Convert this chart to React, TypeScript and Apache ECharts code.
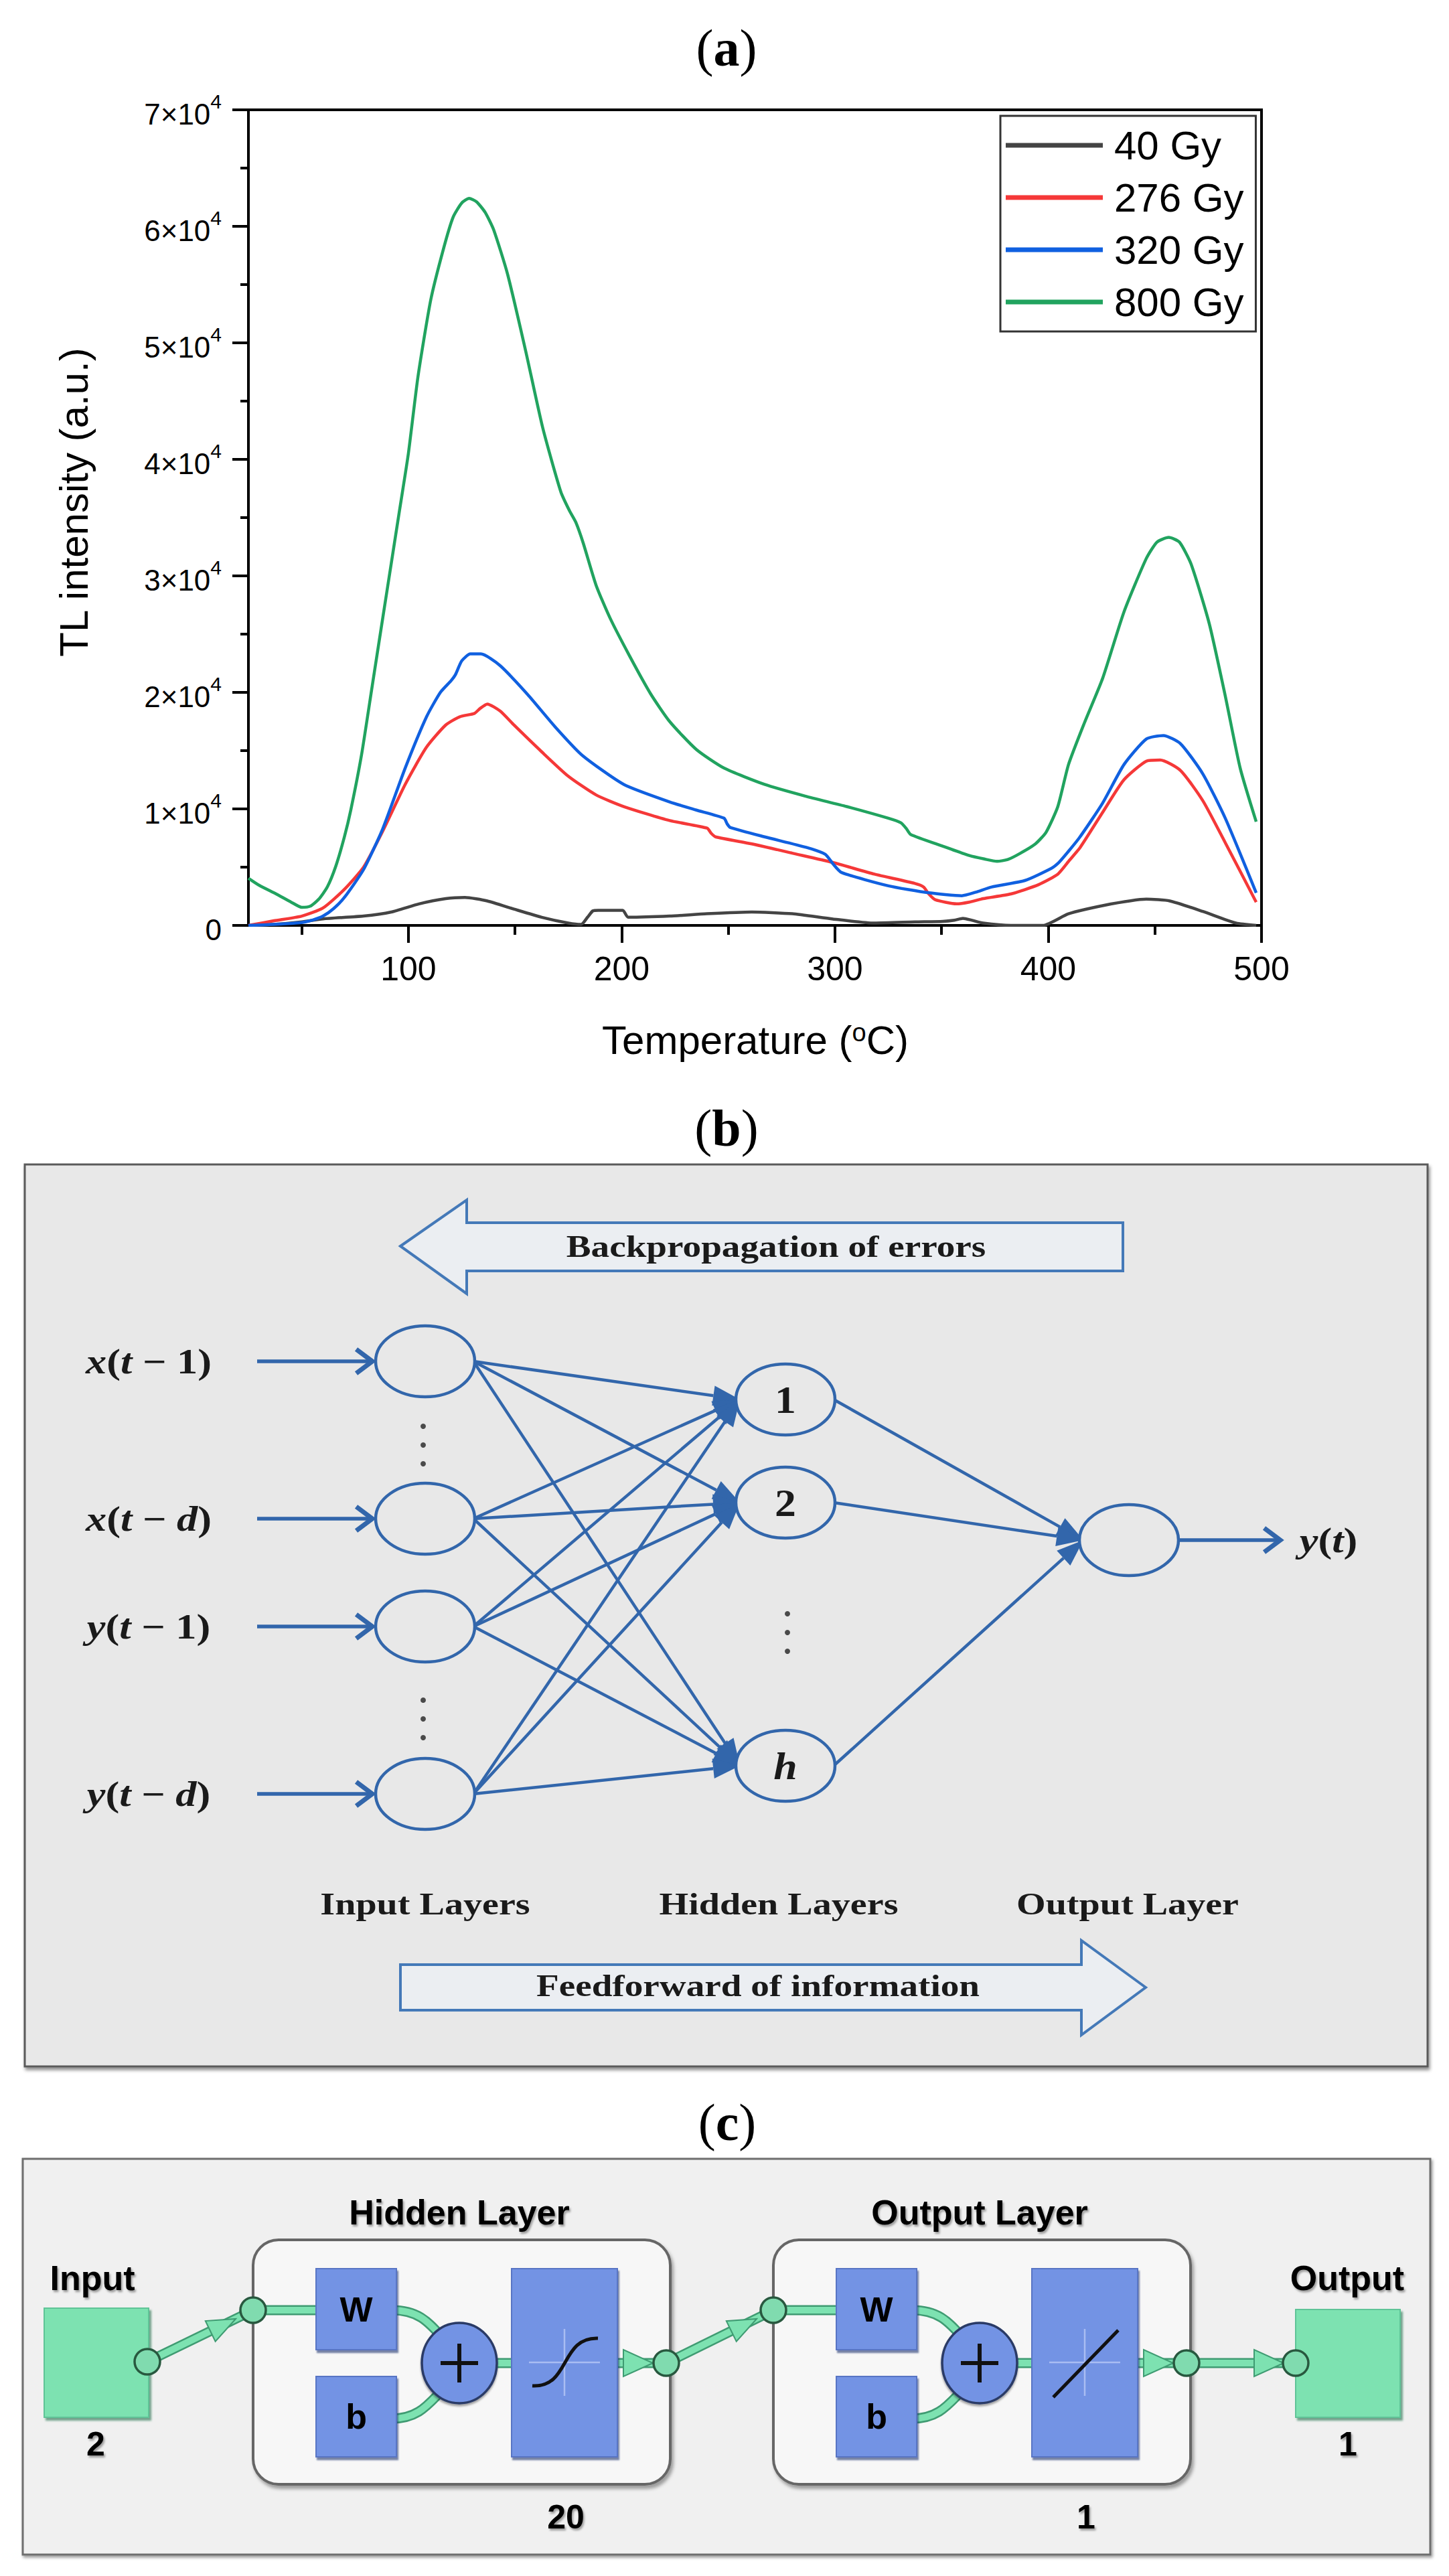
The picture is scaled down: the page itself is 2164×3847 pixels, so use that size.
import React, { useEffect, useRef } from 'react';
import * as echarts from 'echarts';

// ---------- Panel (a) data ----------
const doseLabels = ['40 Gy', '276 Gy', '320 Gy', '800 Gy'];
const doseColors = ['#444444', '#f53838', '#1060e0', '#21a35f'];

const gy40: number[][] = [
  [25, 0], [38, 100], [50, 300], [60, 560], [79, 800], [92, 1150], [105, 1850], [117.5, 2300],
  [126.5, 2400], [137, 2100], [149.5, 1400], [162.5, 700], [175, 200], [181, 80], [184, 700],
  [186.5, 1250], [189, 1300], [200.5, 1300], [203, 700], [222.5, 800], [240, 1000], [261, 1150],
  [280, 1000], [299, 550], [318.5, 200], [337.5, 300], [350.5, 350], [356, 450], [360, 600],
  [364, 450], [369.5, 200], [382.5, 0], [397.5, 0], [409.5, 1000], [425.5, 1700], [446, 2250],
  [457, 2100], [472.5, 1200], [488, 200], [497.5, 0],
];

const gy276: number[][] = [
  [25, 0], [37, 400], [50, 800], [60, 1500], [70, 3100], [79, 5000], [88, 8100], [98.5, 12100],
  [108.5, 15300], [117.5, 17200], [124, 17900], [131, 18200], [133.5, 18600], [137, 19000],
  [143, 18400], [149.5, 17200], [162.5, 14900], [175, 12800], [188, 11200], [201, 10200],
  [222.5, 9000], [240, 8350], [242, 7900], [244, 7600], [261, 7000], [280, 6200], [299, 5400],
  [318.5, 4400], [337.5, 3600], [341.5, 3300], [344, 2700], [347, 2200], [357, 1850], [363, 2000],
  [369.5, 2300], [382.5, 2700], [395.5, 3500], [404.5, 4400], [410, 5600], [415, 6700],
  [425.5, 9700], [435.5, 12500], [446, 14100], [452.5, 14200], [462, 13300], [472.5, 10700],
  [483, 7100], [497.5, 2000],
];

const gy320: number[][] = [
  [25, 0], [38, 100], [50, 250], [55, 450], [60, 800], [65, 1450], [70, 2400], [79, 4800],
  [88, 8300], [98.5, 13500], [108.5, 17900], [115, 20000], [120, 21000], [122, 21500],
  [125, 22700], [129, 23300], [134, 23300], [143, 22300], [156, 19800], [169, 17000],
  [181.5, 14600], [201, 12100], [222.5, 10600], [235, 9900], [248, 9200], [249.5, 8700],
  [251, 8400], [267, 7600], [286.5, 6700], [295.5, 6100], [299, 5300], [303, 4550], [325, 3400],
  [344, 2800], [359.5, 2550], [366, 2850], [373.5, 3300], [389, 3850], [401.5, 4900],
  [405, 5400], [414.5, 7500], [425.5, 10500], [435.5, 13800], [446, 16000], [454, 16300],
  [462, 15600], [472.5, 13000], [483, 9200], [497.5, 2800],
];

const gy800: number[][] = [
  [25, 4050], [30, 3450], [38, 2700], [45, 2000], [50, 1550], [54, 1650], [58, 2250], [62, 3300],
  [66, 5100], [70, 7600], [73, 9900], [78, 14600], [83, 20500], [88, 26400], [92, 31100],
  [96, 35800], [100, 40500], [104.5, 47100], [110.5, 53700], [116.5, 58100], [121, 60800],
  [125, 62000], [128.5, 62400], [132, 62100], [136, 61200], [140, 59700], [146.5, 55900],
  [155, 49300], [163, 42700], [171.5, 37200], [175.5, 35600], [178.5, 34600], [182, 32800],
  [188, 29200], [194.5, 26400], [203.5, 23200], [213.5, 19900], [222.5, 17500], [235, 15100],
  [248, 13500], [267, 12100], [286, 11100], [305.5, 10200], [325, 9200], [331, 8800],
  [333.5, 8300], [335.5, 7800], [350.5, 6800], [363, 6000], [370, 5700], [376, 5500],
  [381, 5650], [387, 6200], [394, 7000], [399, 8000], [404.5, 10200], [409.5, 13800],
  [417, 17400], [425.5, 21200], [435.5, 26900], [446, 31500], [451, 32900], [456.5, 33300],
  [461.5, 32900], [467, 31000], [475.5, 25900], [483, 19700], [490, 13500], [497.5, 8900],
];

const doseSeries = [gy40, gy276, gy320, gy800];
const xMajorTicks = [100, 200, 300, 400, 500];
const xMinorTicks = [50, 150, 250, 350, 450];

// ---------- Panel (b) / (c) text ----------
const inputLabels = [
  ['x', '(', 't', ' − 1)'],
  ['x', '(', 't', ' − ', 'd', ')'],
  ['y', '(', 't', ' − 1)'],
  ['y', '(', 't', ' − ', 'd', ')'],
];
const hiddenLabels = ['1', '2', 'h'];
const layerNamesB = ['Input Layers', 'Hidden Layers', 'Output Layer'];

const SERIF = 'Liberation Serif, Times New Roman, serif';
const SANS = 'Liberation Sans, Arial, sans-serif';

function head(x1: number, y1: number, x2: number, y2: number, len: number, hw: number) {
  const dx = x2 - x1, dy = y2 - y1;
  const L = Math.hypot(dx, dy);
  const ux = dx / L, uy = dy / L;
  const bx = x2 - ux * len, by = y2 - uy * len;
  return {
    base: [bx, by],
    pts: [[x2, y2], [bx - uy * hw, by + ux * hw], [bx + uy * hw, by - ux * hw]],
    chevron: [[bx - uy * hw, by + ux * hw], [x2, y2], [bx + uy * hw, by - ux * hw]],
  };
}

function txt(text: string, x: number, y: number, o: any = {}) {
  return {
    type: 'text',
    x, y,
    rotation: o.rot || 0,
    scaleX: o.sx || 1,
    z: 20,
    style: {
      text,
      x: 0, y: 0,
      align: 'center', verticalAlign: 'middle',
      textAlign: 'center', textVerticalAlign: 'middle',
      fontSize: o.size || 40,
      fontFamily: o.family || SANS,
      fontWeight: o.weight || 'normal',
      fontStyle: o.style || 'normal',
      fill: o.fill || '#000',
      rich: o.rich,
      textShadowColor: o.shadow ? 'rgba(0,0,0,0.35)' : undefined,
      textShadowBlur: o.shadow ? 3 : 0,
      textShadowOffsetX: o.shadow ? 2 : 0,
      textShadowOffsetY: o.shadow ? 3 : 0,
    },
  };
}

function buildPanelB(): any[] {
  const els: any[] = [];
  const blue = '#3266ab';
  const bg = '#e8e8e8';
  els.push({
    type: 'rect', z: 1,
    shape: { x: 37, y: 1739, width: 2095, height: 1347 },
    style: { fill: bg, stroke: '#5a5a5a', lineWidth: 3, shadowBlur: 5, shadowOffsetX: 2, shadowOffsetY: 4, shadowColor: 'rgba(0,0,0,0.45)' },
  });
  // big arrows
  els.push({
    type: 'polygon', z: 2,
    shape: { points: [[598, 1861], [697, 1792], [697, 1826], [1677, 1826], [1677, 1898], [697, 1898], [697, 1932]] },
    style: { fill: '#ebeef2', stroke: '#4479b8', lineWidth: 4 },
  });
  els.push(txt('Backpropagation of errors', 1159, 1862, { size: 46, family: SERIF, weight: 'bold', sx: 1.2, fill: '#1a1a1a' }));
  els.push({
    type: 'polygon', z: 2,
    shape: { points: [[1711, 2968], [1615, 2898], [1615, 2934], [598, 2934], [598, 3002], [1615, 3002], [1615, 3039]] },
    style: { fill: '#ebeef2', stroke: '#4479b8', lineWidth: 4 },
  });
  els.push(txt('Feedforward of information', 1132, 2966, { size: 46, family: SERIF, weight: 'bold', sx: 1.2, fill: '#1a1a1a' }));

  const inX = 635, inY = [2033, 2268, 2429, 2679];
  const hidX = 1173, hidY = [2090, 2244, 2637];
  const outX = 1686, outY = 2300;
  const rx = 74, ry = 53;

  // connections input -> hidden
  inY.forEach((iy) => {
    hidY.forEach((hy) => {
      const h = head(inX + rx - 2, iy, hidX - rx + 6, hy, 40, 15);
      els.push({ type: 'line', z: 4, shape: { x1: inX + rx - 2, y1: iy, x2: h.base[0], y2: h.base[1] }, style: { stroke: blue, lineWidth: 4.5 } });
      els.push({ type: 'polygon', z: 5, shape: { points: h.pts }, style: { fill: blue } });
    });
  });
  // hidden -> output
  hidY.forEach((hy) => {
    const h = head(hidX + rx - 2, hy, outX - rx + 6, outY, 40, 15);
    els.push({ type: 'line', z: 4, shape: { x1: hidX + rx - 2, y1: hy, x2: h.base[0], y2: h.base[1] }, style: { stroke: blue, lineWidth: 4.5 } });
    els.push({ type: 'polygon', z: 5, shape: { points: h.pts }, style: { fill: blue } });
  });
  // input arrows
  inY.forEach((iy) => {
    const h = head(384, iy, 556, iy, 24, 18);
    els.push({ type: 'line', z: 4, shape: { x1: 384, y1: iy, x2: 552, y2: iy }, style: { stroke: blue, lineWidth: 5.5 } });
    els.push({ type: 'polyline', z: 5, shape: { points: h.chevron }, style: { stroke: blue, lineWidth: 7, fill: 'none' } });
  });
  // output arrow
  {
    const h = head(outX + rx, outY, 1912, outY, 24, 18);
    els.push({ type: 'line', z: 4, shape: { x1: outX + rx, y1: outY, x2: 1908, y2: outY }, style: { stroke: blue, lineWidth: 5.5 } });
    els.push({ type: 'polyline', z: 5, shape: { points: h.chevron }, style: { stroke: blue, lineWidth: 7, fill: 'none' } });
  }
  // neurons
  const ell = (cx: number, cy: number) => ({
    type: 'ellipse', z: 6, shape: { cx, cy, rx, ry },
    style: { fill: bg, stroke: blue, lineWidth: 4.5 },
  });
  inY.forEach((iy) => els.push(ell(inX, iy)));
  hidY.forEach((hy) => els.push(ell(hidX, hy)));
  els.push(ell(outX, outY));

  // dots
  const dots = (cx: number, cy: number) => [-28, 0, 28].forEach((d) =>
    els.push({ type: 'circle', z: 6, shape: { cx, cy: cy + d, r: 4 }, style: { fill: '#4a4a4a' } }));
  dots(632, 2158);
  dots(632, 2567);
  dots(1176, 2438);

  // input labels
  const richB = {
    i: { fontFamily: SERIF, fontStyle: 'italic', fontWeight: 'bold', fontSize: 52, fill: '#1a1a1a' },
    n: { fontFamily: SERIF, fontStyle: 'normal', fontWeight: 'bold', fontSize: 52, fill: '#1a1a1a' },
  };
  inputLabels.forEach((parts, k) => {
    const s = parts.map((p) => {
      const italic = p === 'x' || p === 'y' || p === 't' || p === 'd';
      return `{${italic ? 'i' : 'n'}|${p}}`;
    }).join('');
    els.push(txt(s, 222, inY[k], { sx: 1.2, rich: richB, size: 52, family: SERIF }));
  });
  els.push(txt('{i|y}{n|(}{i|t}{n|)}', 1984, outY, { sx: 1.2, rich: richB, size: 52, family: SERIF }));

  hiddenLabels.forEach((l, k) => {
    els.push(txt(l, hidX, hidY[k], { size: 58, family: SERIF, weight: 'bold', style: l === 'h' ? 'italic' : 'normal', fill: '#1a1a1a', sx: 1.1 }));
  });

  const layerX = [635, 1163, 1684];
  layerNamesB.forEach((n, k) => els.push(txt(n, layerX[k], 2843, { size: 46, family: SERIF, weight: 'bold', sx: 1.22, fill: '#1a1a1a' })));
  return els;
}

function buildPanelC(): any[] {
  const els: any[] = [];
  const mint = '#7de2b1';
  const mintDark = '#3f9b72';
  const nodeStroke = '#28583f';
  const boxBlue = '#7393e4';
  els.push({
    type: 'rect', z: 1,
    shape: { x: 34, y: 3224, width: 2102, height: 591 },
    style: { fill: '#f0f0f0', stroke: '#6e6e6e', lineWidth: 3, shadowBlur: 4, shadowOffsetX: 2, shadowOffsetY: 3, shadowColor: 'rgba(0,0,0,0.4)' },
  });

  const greenLine = (x1: number, y1: number, x2: number, y2: number) => {
    els.push({ type: 'line', z: 4, shape: { x1, y1, x2, y2 }, style: { stroke: mintDark, lineWidth: 15, lineCap: 'round' } });
    els.push({ type: 'line', z: 5, shape: { x1, y1, x2, y2 }, style: { stroke: mint, lineWidth: 10, lineCap: 'round' } });
  };
  const greenCurve = (s: any) => {
    els.push({ type: 'bezierCurve', z: 4, shape: s, style: { stroke: mintDark, lineWidth: 15, fill: 'none' } });
    els.push({ type: 'bezierCurve', z: 5, shape: s, style: { stroke: mint, lineWidth: 10, fill: 'none' } });
  };
  const greenHead = (x1: number, y1: number, x2: number, y2: number, len: number, hw: number) => {
    const h = head(x1, y1, x2, y2, len, hw);
    els.push({ type: 'polygon', z: 6, shape: { points: h.pts }, style: { fill: mint, stroke: mintDark, lineWidth: 2 } });
  };
  const node = (cx: number, cy: number) => els.push({
    type: 'ellipse', z: 9, shape: { cx, cy, rx: 19, ry: 19 },
    style: { fill: '#80dbaf', stroke: nodeStroke, lineWidth: 3.5 },
  });
  const blueBox = (x: number, y: number, w: number, h: number) => els.push({
    type: 'rect', z: 7, shape: { x, y, width: w, height: h },
    style: { fill: boxBlue, stroke: '#5874c4', lineWidth: 2, shadowBlur: 2, shadowOffsetX: 2, shadowOffsetY: 4, shadowColor: 'rgba(30,50,110,0.6)' },
  });
  const greenBox = (x: number, y: number, w: number, h: number) => els.push({
    type: 'rect', z: 3, shape: { x, y, width: w, height: h },
    style: { fill: mint, stroke: '#5fc497', lineWidth: 2, shadowBlur: 3, shadowOffsetX: 3, shadowOffsetY: 4, shadowColor: 'rgba(30,110,70,0.6)' },
  });

  // input / output boxes
  greenBox(66, 3447, 156, 163);
  greenBox(1935, 3449, 156, 161);
  els.push(txt('Input', 138, 3402, { size: 52, weight: 'bold', shadow: true }));
  els.push(txt('2', 143, 3650, { size: 50, weight: 'bold', shadow: true }));
  els.push(txt('Output', 2012, 3402, { size: 52, weight: 'bold', shadow: true }));
  els.push(txt('1', 2013, 3650, { size: 50, weight: 'bold', shadow: true }));

  const layers = [
    { dx: 0, title: 'Hidden Layer', size: '20', linear: false },
    { dx: 777, title: 'Output Layer', size: '1', linear: true },
  ];
  layers.forEach((L) => {
    const d = L.dx;
    els.push({
      type: 'rect', z: 2,
      shape: { x: 378 + d, y: 3345, width: 623, height: 365, r: 38 },
      style: { fill: '#f7f7f7', stroke: '#666', lineWidth: 4, shadowBlur: 5, shadowOffsetX: 3, shadowOffsetY: 5, shadowColor: 'rgba(0,0,0,0.35)' },
    });
    els.push(txt(L.title, 686 + d, 3304, { size: 52, weight: 'bold', shadow: true }));
    els.push(txt(L.size, 845 + d, 3759, { size: 50, weight: 'bold', shadow: true }));
    // internal green paths
    greenLine(378 + d, 3450, 480 + d, 3450);
    greenCurve({ x1: 585 + d, y1: 3450, cpx1: 625 + d, cpy1: 3450, cpx2: 640 + d, cpy2: 3468, x2: 660 + d, y2: 3490 });
    greenCurve({ x1: 585 + d, y1: 3612, cpx1: 625 + d, cpy1: 3612, cpx2: 640 + d, cpy2: 3590, x2: 660 + d, y2: 3570 });
    greenLine(735 + d, 3529, 770 + d, 3529);
    greenLine(920 + d, 3529, 995 + d, 3529);
    greenHead(920 + d, 3529, 975 + d, 3529, 44, 20);
    // boxes
    blueBox(472 + d, 3388, 120, 121);
    blueBox(472 + d, 3549, 120, 120);
    blueBox(764 + d, 3388, 158, 281);
    els.push(txt('W', 532 + d, 3449, { size: 52, weight: 'bold', fill: '#000' }));
    els.push(txt('b', 532 + d, 3609, { size: 52, weight: 'bold', fill: '#000' }));
    // sum
    els.push({
      type: 'ellipse', z: 8, shape: { cx: 686 + d, cy: 3529, rx: 56, ry: 60 },
      style: { fill: boxBlue, stroke: '#2b3a66', lineWidth: 3.5, shadowBlur: 3, shadowOffsetY: 3, shadowColor: 'rgba(0,0,0,0.35)' },
    });
    els.push({ type: 'line', z: 9, shape: { x1: 658 + d, y1: 3529, x2: 714 + d, y2: 3529 }, style: { stroke: '#111', lineWidth: 6 } });
    els.push({ type: 'line', z: 9, shape: { x1: 686 + d, y1: 3500, x2: 686 + d, y2: 3558 }, style: { stroke: '#111', lineWidth: 6 } });
    // transfer function
    els.push({ type: 'line', z: 8, shape: { x1: 843 + d, y1: 3478, x2: 843 + d, y2: 3578 }, style: { stroke: '#a9bdf2', lineWidth: 2.5 } });
    els.push({ type: 'line', z: 8, shape: { x1: 790 + d, y1: 3528, x2: 896 + d, y2: 3528 }, style: { stroke: '#a9bdf2', lineWidth: 2.5 } });
    if (L.linear) {
      els.push({ type: 'line', z: 9, shape: { x1: 796 + d, y1: 3580, x2: 893 + d, y2: 3480 }, style: { stroke: '#111', lineWidth: 5 } });
    } else {
      els.push({
        type: 'bezierCurve', z: 9,
        shape: { x1: 795 + d, y1: 3563, cpx1: 852 + d, cpy1: 3566, cpx2: 836 + d, cpy2: 3490, x2: 893 + d, y2: 3492 },
        style: { stroke: '#111', lineWidth: 5, fill: 'none' },
      });
    }
  });

  // inter-block connections
  greenLine(220, 3527, 362, 3458);
  greenHead(220, 3527, 352, 3463, 42, 17);
  greenLine(995, 3529, 1139, 3458);
  greenHead(995, 3529, 1130, 3463, 42, 17);
  greenLine(1772, 3529, 1925, 3529);
  greenHead(1772, 3529, 1917, 3529, 44, 20);

  node(220, 3527);
  node(378, 3450);
  node(995, 3529);
  node(1155, 3450);
  node(1772, 3529);
  node(1935, 3529);
  return els;
}

const yRich = {
  m: { fontSize: 44, fontFamily: SANS, color: '#000', lineHeight: 56, verticalAlign: 'bottom' },
  s: { fontSize: 30, fontFamily: SANS, color: '#000', lineHeight: 30, verticalAlign: 'top' },
};

export default function App() {
  const ref = useRef<HTMLDivElement>(null);
  useEffect(() => {
    if (!ref.current) return;
    const chart = echarts.init(ref.current, undefined, { renderer: 'svg' });
    const option: any = {
      animation: false,
      backgroundColor: '#ffffff',
      color: doseColors,
      grid: {
        left: 371, top: 164, width: 1513, height: 1218,
        show: true, borderColor: '#000', borderWidth: 4, backgroundColor: 'transparent',
      },
      legend: {
        show: true, orient: 'vertical', left: 1494, top: 173,
        padding: [14, 18, 14, 8], itemGap: 18, itemWidth: 145, itemHeight: 7,
        icon: 'rect', selectedMode: false,
        borderColor: '#333', borderWidth: 3, backgroundColor: '#fff',
        textStyle: { fontSize: 60, fontFamily: SANS, color: '#000', lineHeight: 60, padding: [0, 0, 0, 12] },
        data: doseLabels,
      },
      xAxis: [
        {
          type: 'value', min: 25, max: 500, position: 'bottom',
          axisLine: { show: true, onZero: false, lineStyle: { color: '#000', width: 4 } },
          axisTick: { show: true, inside: false, length: 26, customValues: xMajorTicks, lineStyle: { color: '#000', width: 4 } },
          axisLabel: { show: true, customValues: xMajorTicks, margin: 40, fontSize: 50, fontFamily: SANS, color: '#000' },
          splitLine: { show: false },
        },
        {
          type: 'value', min: 25, max: 500, position: 'bottom', offset: 0,
          axisLine: { show: false, onZero: false },
          axisTick: { show: true, inside: false, length: 14, customValues: xMinorTicks, lineStyle: { color: '#000', width: 4 } },
          axisLabel: { show: false },
          splitLine: { show: false },
        },
      ],
      yAxis: {
        type: 'value', min: 0, max: 70000, interval: 10000,
        axisLine: { show: true, onZero: false, lineStyle: { color: '#000', width: 4 } },
        axisTick: { show: true, inside: false, length: 24, lineStyle: { color: '#000', width: 4 } },
        minorTick: { show: true, splitNumber: 2, length: 12, lineStyle: { color: '#000', width: 4 } },
        axisLabel: {
          margin: 40,
          formatter: (v: number) => (v === 0 ? '{m|0}' : `{m|${v / 10000}×10}{s|4}`),
          rich: yRich,
        },
        splitLine: { show: false },
        minorSplitLine: { show: false },
      },
      series: doseSeries.map((d, i) => ({
        type: 'line', name: doseLabels[i], data: d, xAxisIndex: 0, yAxisIndex: 0,
        showSymbol: false, symbol: 'none', smooth: 0.2,
        lineStyle: { color: doseColors[i], width: 4.5, join: 'round' }, itemStyle: { color: doseColors[i] },
        z: 3,
      })),
      graphic: {
        elements: [
          txt('({b|a})', 1085, 71, { size: 78, family: SERIF, rich: { b: { fontSize: 78, fontFamily: SERIF, fontWeight: 'bold' } } }),
          txt('TL intensity (a.u.)', 110, 750, { size: 60, rot: Math.PI / 2 }),
          txt('Temperature ({s|o}C)', 1128, 1553, {
            size: 60,
            rich: { s: { fontSize: 38, fontFamily: SANS, verticalAlign: 'top', lineHeight: 38 } },
          }),
          txt('({b|b})', 1085, 1684, { size: 78, family: SERIF, rich: { b: { fontSize: 78, fontFamily: SERIF, fontWeight: 'bold' } } }),
          txt('({b|c})', 1086, 3169, { size: 78, family: SERIF, rich: { b: { fontSize: 78, fontFamily: SERIF, fontWeight: 'bold' } } }),
          ...buildPanelB(),
          ...buildPanelC(),
        ],
      },
    };
    chart.setOption(option);
    return () => chart.dispose();
  }, []);
  return (
    <div
      ref={ref}
      style={{ position: 'absolute', left: 0, top: 0, width: 2164, height: 3847, background: '#fff' }}
    />
  );
}
